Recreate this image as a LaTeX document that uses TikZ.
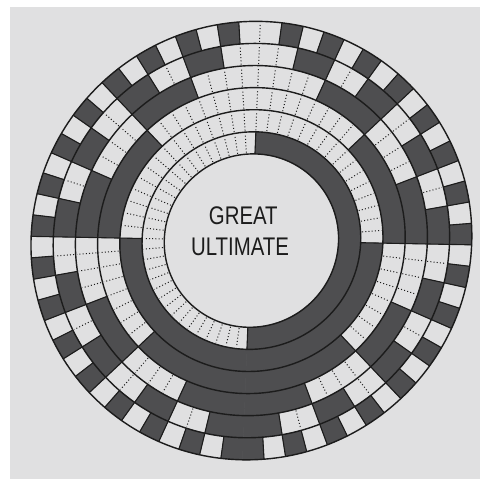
\documentclass[tikz,border=0pt]{standalone}
\usepackage{fontspec}
\setmainfont{Liberation Sans}
\definecolor{paper}{RGB}{224,224,225}
\definecolor{stipple}{RGB}{78,78,80}
\definecolor{ink}{RGB}{28,28,28}
\tikzset{
  ring line/.style={ink,line width=1.4pt},
  solid cut/.style={ink,line width=1.1pt},
  dot cut/.style={ink,line width=1pt,dash pattern=on 1pt off 2.2pt},
  yin cell/.style={fill=stipple,draw=stipple,line width=0.5pt},
  title text/.style={ink,font=\fontsize{25.5}{30}\selectfont,inner sep=0pt,xscale=0.8},
}
\begin{document}
\begin{tikzpicture}[x=1pt,y=1pt,declare function={rr(\k)=87+22.1667*\k;}]
\useasboundingbox (0,0) rectangle (480,479);
\fill[white] (0,0) rectangle (480,479);
\fill[paper] (10,0) rectangle (480,472);
\begin{scope}[shift={(251.4,238.4)},x={(1.0011pt,-0.0193pt)},y={(0.0409pt,0.9964pt)}]
% stippled (yin) segments, ring 1 inside to ring 6 outside
\foreach \k in {1,...,6}{
  \pgfmathtruncatemacro\L{2^(6-\k)}
  \pgfmathtruncatemacro\S{2^\k-1}
  \foreach \s in {0,...,\S}{
    \pgfmathtruncatemacro\c{\s*\L}
    \pgfmathtruncatemacro\n{\c<32 ? 63-\c : \c-32}
    \pgfmathtruncatemacro\b{mod(floor(\n/\L),2)}
    \ifnum\b=0
      \path[yin cell] ({90+5.625*\c}:{rr(\k-1)})
        arc[start angle={90+5.625*\c},delta angle={5.625*\L},radius={rr(\k-1)}]
        -- ({90+5.625*(\c+\L)}:{rr(\k)})
        arc[start angle={90+5.625*(\c+\L)},delta angle={-5.625*\L},radius={rr(\k)}]
        -- cycle;
    \fi
  }
}
% radial cuts: solid where the colour changes, dotted inside white runs
\foreach \k in {1,...,6}{
  \pgfmathtruncatemacro\L{2^(6-\k)}
  \foreach \c in {0,...,63}{
    \pgfmathtruncatemacro\d{mod(\c+63,64)}
    \pgfmathtruncatemacro\nu{\c<32 ? 63-\c : \c-32}
    \pgfmathtruncatemacro\nv{\d<32 ? 63-\d : \d-32}
    \pgfmathtruncatemacro\bu{mod(floor(\nu/\L),2)}
    \pgfmathtruncatemacro\bv{mod(floor(\nv/\L),2)}
    \ifnum\bu=\bv
      \ifnum\bu=1
        \draw[dot cut] ({90+5.625*\c}:{rr(\k-1)+1.5}) -- ({90+5.625*\c}:{rr(\k)-1.5});
      \fi
    \else
      \draw[solid cut] ({90+5.625*\c}:{rr(\k-1)}) -- ({90+5.625*\c}:{rr(\k)});
    \fi
  }
}
\foreach \k in {0,...,6}
  \draw[ring line] (0,0) circle[radius={rr(\k)}];
\end{scope}
\node[title text,anchor=base] (great) at (243.3,254) {GREAT};
\node[title text,anchor=base] (ultimate) at (240,223.3) {ULTIMATE};
\end{tikzpicture}
\end{document}
